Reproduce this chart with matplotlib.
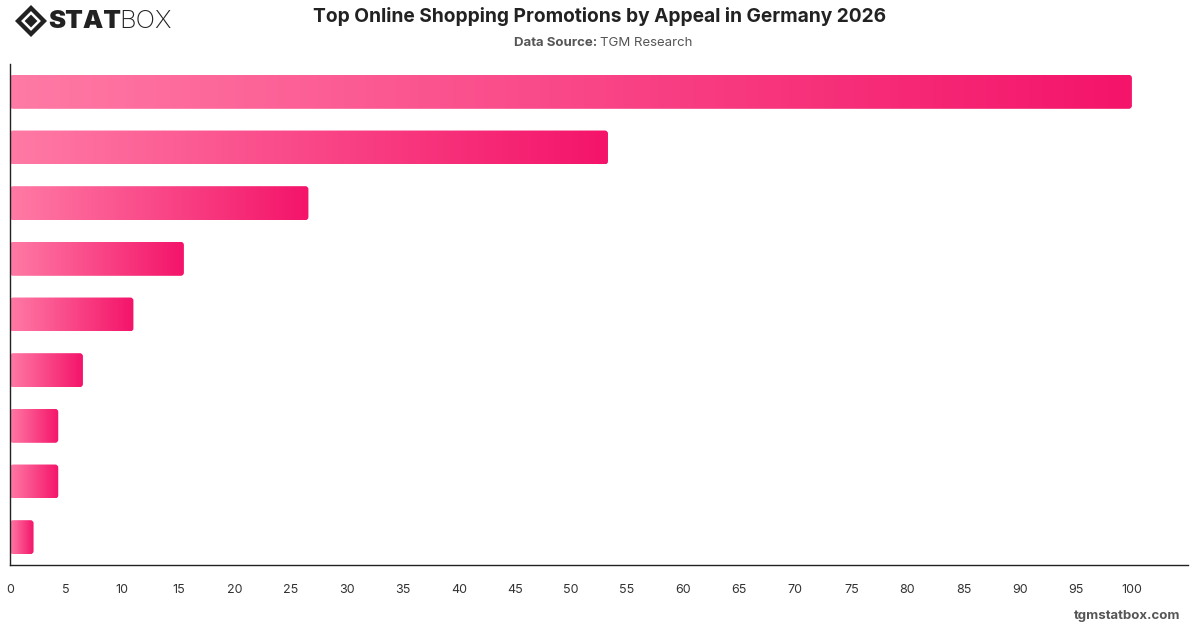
"""
    Top online shopping promotions - horizontal gradient bars
"""

import numpy as np
import matplotlib.pyplot as plt
from matplotlib.colors import LinearSegmentedColormap
from matplotlib.patches import FancyBboxPatch, Polygon

# Values (labels are not shown on the chart)
promotions = ['Promotion 1', 'Promotion 2', 'Promotion 3', 'Promotion 4',
              'Promotion 5', 'Promotion 6', 'Promotion 7', 'Promotion 8',
              'Promotion 9']
appeal = [100, 53.3, 26.6, 15.5, 11.0, 6.5, 4.3, 4.3, 2.1]
x_ticks = list(range(0, 101, 5))

plt.rcParams['font.family'] = ['Inter', 'DejaVu Sans']

fig = plt.figure(figsize=(12, 6.28), dpi=100)
ax = fig.add_axes([10 / 1200, 63 / 628, 1178 / 1200, 501 / 628])

cmap = LinearSegmentedColormap.from_list('pink', ['#FF7AA5', '#F4146A'])
grad = np.linspace(0, 1, 256).reshape(1, -1)

n = len(appeal)
bar_h = 0.61
for i, v in enumerate(appeal):
    y = n - 1 - i
    patch = FancyBboxPatch((0, y - bar_h / 2), v, bar_h,
                           boxstyle='round,pad=0,rounding_size=0.28',
                           mutation_aspect=0.2, fc='none', ec='none')
    ax.add_patch(patch)
    im = ax.imshow(grad, cmap=cmap, aspect='auto', interpolation='bilinear',
                   extent=[0, v, y - bar_h / 2, y + bar_h / 2], zorder=2)
    im.set_clip_path(patch)

ax.set_xlim(0, 105)
ax.set_ylim(-0.5, n - 0.5)
ax.set_xticks(x_ticks)
ax.set_xticklabels([str(t) for t in x_ticks], fontsize=9, color='#333333')
ax.tick_params(axis='x', length=0, pad=14)
ax.set_yticks([])
for side in ['top', 'right']:
    ax.spines[side].set_visible(False)
for side in ['left', 'bottom']:
    ax.spines[side].set_color('#222222')
    ax.spines[side].set_linewidth(1)

# Title and source
fig.text(0.5, 1 - 17 / 628, 'Top Online Shopping Promotions by Appeal in Germany 2026',
         ha='center', va='center', fontsize=13.8, fontweight='bold', color='#222222')
fig.text(0.5, 1 - 43 / 628, 'Data Source: ', ha='right', va='center',
         fontsize=9.5, fontweight='bold', color='#555555')
fig.text(0.5, 1 - 43 / 628, 'TGM Research', ha='left', va='center',
         fontsize=9.5, color='#555555')

# Footer
fig.text(1180 / 1200, 1 - 616 / 628, 'tgmstatbox.com', ha='right', va='center',
         fontsize=9.5, fontweight='bold', color='#555555')

# Logo
lax = fig.add_axes([15 / 1200, 1 - 37 / 628, 32 / 1200, 32 / 628])
lax.set_xlim(-1, 1)
lax.set_ylim(-1, 1)
lax.axis('off')
lax.add_patch(Polygon([[0, 1], [1, 0], [0, -1], [-1, 0]], closed=True,
                      fc='#222222', ec='none'))
lax.add_patch(Polygon([[0, 0.62], [0.62, 0], [0, -0.62], [-0.62, 0]], closed=True,
                      fc='white', ec='none'))
lax.add_patch(Polygon([[0, 0.4], [0.4, 0], [0, -0.4], [-0.4, 0]], closed=True,
                      fc='#222222', ec='none'))
fig.text(48 / 1200, 1 - 21 / 628, 'STAT', ha='left', va='center',
         fontsize=18.5, fontweight='black', color='#222222')
fig.text(119 / 1200, 1 - 21 / 628, 'BOX', ha='left', va='center',
         fontsize=18.5, fontweight='light', color='#222222')

fig.savefig('out.png', dpi=100)
